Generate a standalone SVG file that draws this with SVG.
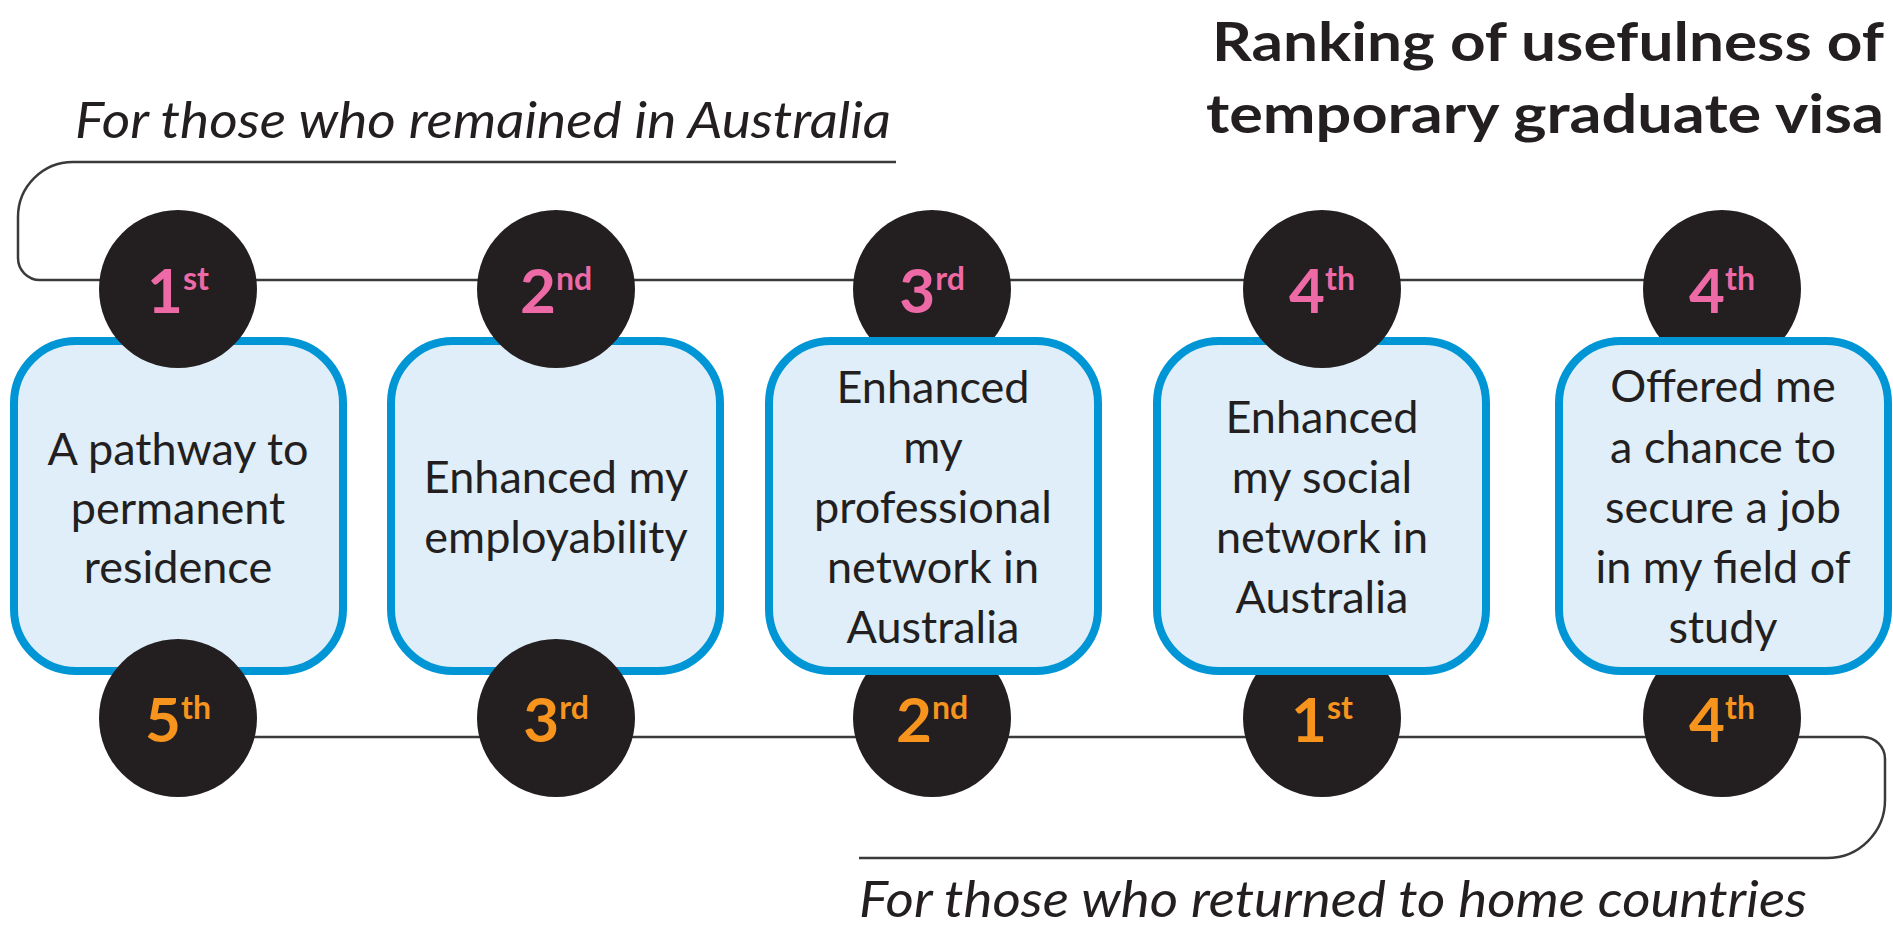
<svg xmlns="http://www.w3.org/2000/svg" width="1893" height="927" viewBox="0 0 1893 927">
  <style>
    .bg { fill: #ffffff; }
    .track { fill: none; stroke: #3a3a3a; stroke-width: 2.5; }
    .card { fill: #dfeef9; stroke: #0096d6; stroke-width: 8; }
    .badge { fill: #231f20; }
    .label { font-family: Lato, "Open Sans", sans-serif; font-size: 45px; fill: #231f20; text-anchor: middle; }
    .rank { font-family: Lato, "Open Sans", sans-serif; font-weight: 700; font-size: 62px; text-anchor: middle; }
    .rank .sup { font-size: 32px; }
    .stay { fill: #ee6aa7; }
    .home { fill: #f7941d; }
    .title { font-family: Lato, "Open Sans", sans-serif; font-weight: 700; font-size: 53px; fill: #231f20; }
    .caption { font-family: Lato, "Open Sans", sans-serif; font-style: italic; font-size: 50px; fill: #231f20; }
  </style>

  <rect class="bg" x="0" y="0" width="1893" height="927"/>

  <!-- heading -->
  <g id="title">
    <text class="title" x="1212" y="61" textLength="672" lengthAdjust="spacingAndGlyphs">Ranking of usefulness of</text>
    <text class="title" x="1206" y="133" textLength="678" lengthAdjust="spacingAndGlyphs">temporary graduate visa</text>
  </g>

  <!-- group captions -->
  <g id="captions">
    <text class="caption" x="75" y="138" textLength="816" lengthAdjust="spacingAndGlyphs">For those who remained in Australia</text>
    <text class="caption" x="859" y="917" textLength="948" lengthAdjust="spacingAndGlyphs">For those who returned to home countries</text>
  </g>

  <!-- ranking tracks: upper = remained, lower = returned -->
  <g id="connectors">
    <path class="track" d="M 896 162 H 73 A 55 55 0 0 0 18 217 V 258 A 22 22 0 0 0 40 280 H 1722"/>
    <path class="track" d="M 178 737 H 1863 A 22 22 0 0 1 1885 759 V 800 A 58 58 0 0 1 1827 858 H 859"/>
  </g>

  <!-- benefit 1 -->
  <g id="item-pathway">
    <rect class="card" x="14" y="341" width="329" height="330" rx="62"/>
    <text class="label" x="178" y="465">A pathway to</text>
    <text class="label" x="178" y="524">permanent</text>
    <text class="label" x="178" y="583">residence</text>
    <circle class="badge" cx="178" cy="289" r="79"/>
    <text class="rank stay" x="178" y="313">1<tspan class="sup" dy="-23">st</tspan></text>
    <circle class="badge" cx="178" cy="718" r="79"/>
    <text class="rank home" x="178" y="742">5<tspan class="sup" dy="-23">th</tspan></text>
  </g>

  <!-- benefit 2 -->
  <g id="item-employability">
    <rect class="card" x="391" y="341" width="329" height="330" rx="62"/>
    <text class="label" x="556" y="493">Enhanced my</text>
    <text class="label" x="556" y="553">employability</text>
    <circle class="badge" cx="556" cy="289" r="79"/>
    <text class="rank stay" x="556" y="313">2<tspan class="sup" dy="-23">nd</tspan></text>
    <circle class="badge" cx="556" cy="718" r="79"/>
    <text class="rank home" x="556" y="742">3<tspan class="sup" dy="-23">rd</tspan></text>
  </g>

  <!-- benefit 3 -->
  <g id="item-professional">
    <circle class="badge" cx="932" cy="289" r="79"/>
    <text class="rank stay" x="932" y="313">3<tspan class="sup" dy="-23">rd</tspan></text>
    <circle class="badge" cx="932" cy="718" r="79"/>
    <text class="rank home" x="932" y="742">2<tspan class="sup" dy="-23">nd</tspan></text>
    <rect class="card" x="769" y="341" width="329" height="330" rx="62"/>
    <text class="label" x="933" y="403">Enhanced</text>
    <text class="label" x="933" y="463">my</text>
    <text class="label" x="933" y="523">professional</text>
    <text class="label" x="933" y="583">network in</text>
    <text class="label" x="933" y="643">Australia</text>
  </g>

  <!-- benefit 4 -->
  <g id="item-social">
    <circle class="badge" cx="1322" cy="718" r="79"/>
    <text class="rank home" x="1322" y="742">1<tspan class="sup" dy="-23">st</tspan></text>
    <rect class="card" x="1157" y="341" width="329" height="330" rx="62"/>
    <text class="label" x="1322" y="433">Enhanced</text>
    <text class="label" x="1322" y="493">my social</text>
    <text class="label" x="1322" y="553">network in</text>
    <text class="label" x="1322" y="613">Australia</text>
    <circle class="badge" cx="1322" cy="289" r="79"/>
    <text class="rank stay" x="1322" y="313">4<tspan class="sup" dy="-23">th</tspan></text>
  </g>

  <!-- benefit 5 -->
  <g id="item-field-job">
    <circle class="badge" cx="1722" cy="289" r="79"/>
    <text class="rank stay" x="1722" y="313">4<tspan class="sup" dy="-23">th</tspan></text>
    <circle class="badge" cx="1722" cy="718" r="79"/>
    <text class="rank home" x="1722" y="742">4<tspan class="sup" dy="-23">th</tspan></text>
    <rect class="card" x="1559" y="341" width="329" height="330" rx="62"/>
    <text class="label" x="1723" y="402">Offered me</text>
    <text class="label" x="1723" y="463">a chance to</text>
    <text class="label" x="1723" y="523">secure a job</text>
    <text class="label" x="1723" y="583">in my field of</text>
    <text class="label" x="1723" y="643">study</text>
  </g>
</svg>
